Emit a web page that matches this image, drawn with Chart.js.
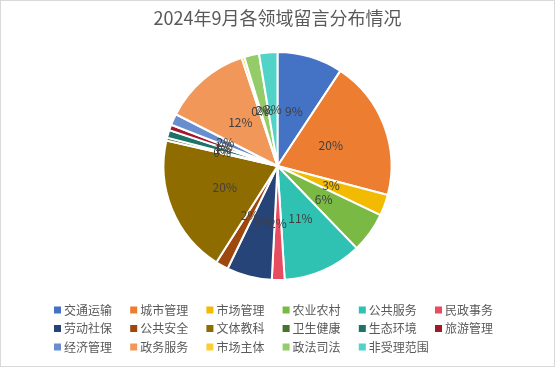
<!DOCTYPE html>
<html>
<head>
<meta charset="utf-8">
<script src="https://cdn.jsdelivr.net/npm/chart.js@4"></script>
<style>
html,body{margin:0;padding:0;background:#fff;}
canvas{display:block;}
</style>
</head>
<body>
<canvas id="c" width="555" height="367"></canvas>
<script>
const titleText = '2024年9月各领域留言分布情况';
const categories = ['交通运输','城市管理','市场管理','农业农村','公共服务','民政事务','劳动社保','公共安全','文体教科','卫生健康','生态环境','旅游管理','经济管理','政务服务','市场主体','政法司法','非受理范围'];
const shares = [9.3, 19.8, 3.0, 5.7, 11.2, 1.8, 6.4, 1.8, 19.6, 0.4, 1.1, 0.8, 1.6, 12.4, 0.4, 2.1, 2.6];
const colors = ['#4472C4','#ED7D31','#F2BA00','#7AB943','#2FC1B2','#E84C60','#264478','#9E480E','#8F6C00','#477330','#1C7369','#A11A2C','#698ED0','#F1975A','#FFCC33','#95CC6A','#52D3C7'];

const FONT = '"Noto Sans CJK SC","Noto Sans",sans-serif';

const pctLabels = {
  id: 'pctLabels',
  afterDatasetsDraw(chart) {
    const ctx = chart.ctx;
    const meta = chart.getDatasetMeta(0);
    const data = chart.data.datasets[0].data;
    const total = data.reduce((a, b) => a + b, 0);
    ctx.save();
    ctx.font = '12px ' + FONT;
    ctx.fillStyle = '#404040';
    ctx.textAlign = 'center';
    ctx.textBaseline = 'middle';
    meta.data.forEach((arc, i) => {
      const p = arc.getProps(['x','y','startAngle','endAngle','outerRadius'], true);
      const mid = (p.startAngle + p.endAngle) / 2;
      const r = p.outerRadius * 0.5;
      const x = p.x + Math.cos(mid) * r;
      const y = p.y + Math.sin(mid) * r;
      ctx.fillText(Math.round(data[i] / total * 100) + '%', x, y);
    });
    ctx.restore();
  }
};

const customLegend = {
  id: 'customLegend',
  afterDraw(chart) {
    const ctx = chart.ctx;
    const cols = 6, x0 = 54, pitch = 76.2, rowY = [310, 328.5, 347];
    ctx.save();
    ctx.font = '12px ' + FONT;
    ctx.textBaseline = 'middle';
    ctx.textAlign = 'left';
    chart.data.labels.forEach((lab, i) => {
      const col = i % cols, row = Math.floor(i / cols);
      const x = x0 + col * pitch, y = rowY[row];
      ctx.fillStyle = chart.data.datasets[0].backgroundColor[i];
      ctx.fillRect(x, y - 3.5, 7, 7);
      ctx.fillStyle = '#595959';
      ctx.fillText(lab, x + 10, y);
    });
    ctx.restore();
  }
};

const frame = {
  id: 'frame',
  beforeDraw(chart) {
    const ctx = chart.ctx;
    ctx.save();
    ctx.fillStyle = '#fff';
    ctx.fillRect(0, 0, chart.width, chart.height);
    ctx.restore();
  },
  afterDraw(chart) {
    const ctx = chart.ctx;
    ctx.save();
    ctx.strokeStyle = '#D9D9D9';
    ctx.lineWidth = 1;
    ctx.strokeRect(0.5, 0.5, chart.width - 1, chart.height - 1);
    ctx.restore();
  }
};

new Chart(document.getElementById('c'), {
  type: 'pie',
  data: {
    labels: categories,
    datasets: [{
      data: shares,
      backgroundColor: colors,
      borderColor: '#ffffff',
      borderWidth: 2
    }]
  },
  options: {
    responsive: false,
    animation: false,
    layout: { padding: { top: 0, bottom: 86, left: 0, right: 0 } },
    plugins: {
      legend: { display: false },
      tooltip: { enabled: false },
      title: {
        display: true,
        text: titleText,
        color: '#595959',
        font: { family: FONT, size: 18, weight: 'normal', lineHeight: 1.2 },
        padding: { top: 7, bottom: 22.4 }
      }
    }
  },
  plugins: [frame, pctLabels, customLegend]
});
</script>
</body>
</html>
